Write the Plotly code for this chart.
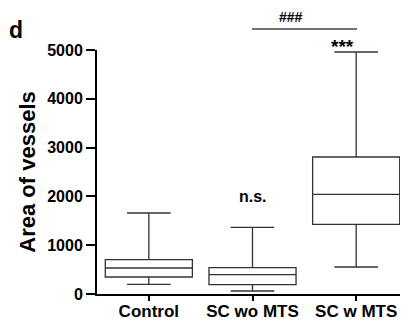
import plotly.graph_objects as go

categories = ["Control", "SC wo MTS", "SC w MTS"]
lower_whisker = [199, 61, 553]
q1_vals = [348, 193, 1428]
median_vals = [533, 397, 2043]
q3_vals = [705, 541, 2807]
upper_whisker = [1660, 1367, 4959]
y_ticks = [0, 1000, 2000, 3000, 4000, 5000]

FONT = "Liberation Sans, Arial, sans-serif"

fig = go.Figure()
fig.add_trace(go.Box(
    x=categories,
    lowerfence=lower_whisker,
    q1=q1_vals,
    median=median_vals,
    q3=q3_vals,
    upperfence=upper_whisker,
    fillcolor="white",
    line=dict(color="#333333", width=1.3),
    width=0.84,
    whiskerwidth=0.5,
    boxpoints=False,
    hoverinfo="skip",
))

# page has an 8px body margin; figure is 400x315 so it ends at the window edge
fig.update_layout(
    width=400, height=315,
    margin=dict(l=89, r=0, t=42, b=29, autoexpand=False),
    paper_bgcolor="white", plot_bgcolor="white",
    showlegend=False,
    font=dict(family=FONT, color="black"),
    xaxis=dict(
        range=[-0.5, 2.5], showgrid=False, zeroline=False, automargin=False,
        showline=True, linecolor="black", linewidth=2,
        ticks="outside", ticklen=5, tickwidth=2, tickcolor="black",
        ticklabelstandoff=-4,
        tickfont=dict(size=17, family=FONT, weight="bold"),
    ),
    yaxis=dict(
        range=[0, 5000], tickvals=y_ticks, showgrid=False, zeroline=False, automargin=False,
        showline=True, linecolor="black", linewidth=2,
        ticks="outside", ticklen=9, tickwidth=2, tickcolor="black",
        tickfont=dict(size=16, family=FONT, weight="bold"),
        title=dict(text="Area of vessels", font=dict(size=22, family=FONT, weight="bold"), standoff=6),
    ),
)

fig.add_annotation(text="<b>d</b>", xref="paper", yref="paper", x=(16 - 97) / 311, y=(294 - 30) / 244,
                   showarrow=False, font=dict(size=23, family=FONT), xanchor="center", yanchor="middle")
fig.add_annotation(text="<b>n.s.</b>", xref="x", yref="y", x=1, y=1990,
                   showarrow=False, font=dict(size=16, family=FONT), yanchor="middle")
fig.add_annotation(text="<b>***</b>", xref="paper", yref="paper", x=0.833, y=(294 - 47) / 244,
                   showarrow=False, font=dict(size=19, family=FONT), yanchor="middle")
fig.add_annotation(text="<b>###</b>", xref="paper", yref="paper", x=(305 - 97) / 311, y=(294 - 17) / 244,
                   showarrow=False, font=dict(size=14, family=FONT), yanchor="middle")
fig.add_shape(type="line", xref="paper", yref="paper", x0=(252 - 97) / 311, x1=(357 - 97) / 311,
              y0=(294 - 29) / 244, y1=(294 - 29) / 244,
              line=dict(color="#444444", width=1.3))

fig.write_html("out.html")
